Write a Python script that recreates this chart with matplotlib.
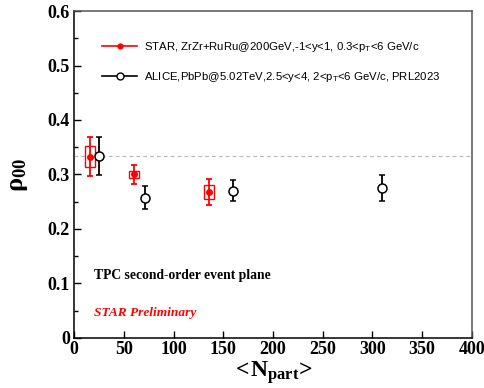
import matplotlib
matplotlib.use("Agg")
import matplotlib.pyplot as plt
from matplotlib.patches import Rectangle
from matplotlib.lines import Line2D

plt.rcParams['mathtext.fontset'] = 'custom'
plt.rcParams['mathtext.rm'] = 'Liberation Sans'
plt.rcParams['mathtext.bf'] = 'Liberation Serif:bold'
plt.rcParams['mathtext.it'] = 'Liberation Sans:italic'

# STAR data
star_npart = [16, 60, 136]
star_rho = [0.333, 0.300, 0.268]
star_stat = [0.035, 0.018, 0.024]
star_sys = [0.020, 0.007, 0.013]
star_box_halfwidth = [5, 5, 5]

# ALICE data
alice_npart = [25, 71, 160, 310]
alice_rho = [0.334, 0.257, 0.270, 0.275]
alice_err = [0.035, 0.021, 0.019, 0.024]

ref_value = 1.0 / 3.0

xticks = [0, 50, 100, 150, 200, 250, 300, 350, 400]
yticks = [0, 0.1, 0.2, 0.3, 0.4, 0.5, 0.6]

label_star = r"STAR, ZrZr+RuRu@200GeV,-1<y<1, 0.3<p$_{\mathrm{T}}$<6 GeV/c"
label_alice = r"ALICE,PbPb@5.02TeV,2.5<y<4, 2<p$_{\mathrm{T}}$<6 GeV/c, PRL2023"

fig = plt.figure(figsize=(4.85, 3.88), dpi=100)
ax = fig.add_axes([0.153, 0.129, 0.8196, 0.8426])

ax.set_xlim(0, 400)
ax.set_ylim(0, 0.6)

ax.axhline(ref_value, color='#bbbbbb', lw=0.9, ls=(0, (3, 2.5)), zorder=1)

for x, y, s, hw in zip(star_npart, star_rho, star_sys, star_box_halfwidth):
    ax.add_patch(Rectangle((x - hw, y - s), 2 * hw, 2 * s, fill=False,
                           edgecolor='red', lw=1.0, zorder=2))

ax.errorbar(star_npart, star_rho, yerr=star_stat, fmt='o', color='red',
            ms=4, mfc='red', mec='red', elinewidth=1.3, capsize=2,
            capthick=1.3, zorder=3)
ax.errorbar(alice_npart, alice_rho, yerr=alice_err, fmt='o', color='black',
            ms=6.5, mfc='white', mec='black', mew=1.1, elinewidth=1.3,
            capsize=2, capthick=1.3, zorder=3)

handles = [Line2D([], [], color='red', marker='o', ms=3.5, lw=1.2),
           Line2D([], [], color='black', marker='o', ms=5, mfc='white', lw=1.2)]
leg = ax.legend(handles, [label_star, label_alice], loc='upper left',
                bbox_to_anchor=(0.07, 0.91), frameon=False,
                prop={'family': 'Liberation Sans', 'size': 8.2},
                handlelength=3.1, handletextpad=0.6, labelspacing=1.38,
                borderpad=0, borderaxespad=0)

ax.text(0.05, 0.19, "TPC second-order event plane", transform=ax.transAxes,
        family='Liberation Serif', weight='bold', size=9.8, va='center')
ax.text(0.05, 0.076, "STAR Preliminary", transform=ax.transAxes,
        family='Liberation Serif', weight='bold', style='italic', size=9.6,
        color='red', va='center')

ax.set_xticks(xticks)
ax.set_xticklabels([f"{v:g}" for v in xticks])
ax.set_yticks(yticks)
ax.set_yticklabels([f"{v:g}" for v in yticks])
ax.set_yticks([0.05, 0.15, 0.25, 0.35, 0.45, 0.55], minor=True)

for lab in ax.get_xticklabels() + ax.get_yticklabels():
    lab.set_family('Liberation Serif')
    lab.set_weight('bold')
    lab.set_size(13)

ax.tick_params(axis='both', which='major', direction='in', length=5, width=1)
ax.tick_params(axis='both', which='minor', direction='in', length=3, width=1)
ax.tick_params(axis='x', pad=2)
ax.tick_params(axis='y', pad=3)

for sp in ['left', 'bottom']:
    ax.spines[sp].set_linewidth(1.1)
for sp in ['top', 'right']:
    ax.spines[sp].set_linewidth(1.1)
    ax.spines[sp].set_color('#555555')

ax.set_xlabel(r"$\mathbf{<\!N_{part}\!>}$", fontsize=17, labelpad=1)
ax.set_ylabel(r"$\mathbf{ρ_{00}}$", fontsize=19, labelpad=13)

fig.savefig("out.png", dpi=100)
